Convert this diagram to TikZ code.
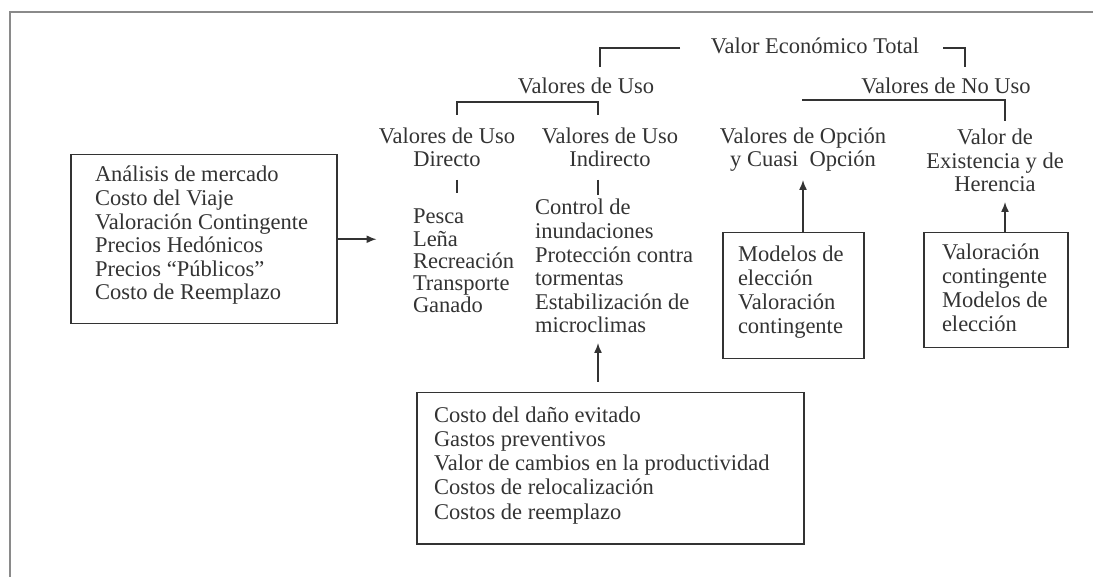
\documentclass[tikz,border=0pt]{standalone}
\usepackage{fontspec}
\setmainfont{Liberation Serif}
\usetikzlibrary{arrows.meta,calc}
\definecolor{ink}{HTML}{333333}
\definecolor{framec}{HTML}{8A8A8A}
\begin{document}
\begin{tikzpicture}[x=1pt,y=-1pt,
  txt/.style={inner sep=0pt, outer sep=0pt, text=ink, font=\fontsize{22.5}{23.6}\selectfont},
  lst/.style={txt, align=left, anchor=base west},
  ctr/.style={txt, align=center, anchor=base},
  boxst/.style={draw=ink, line width=1.5pt, inner sep=0pt, anchor=north west},
  ln/.style={draw=ink, line width=1.5pt},
  arr/.style={ln, -{Latex[length=10pt,width=8pt]}}
]
\useasboundingbox (0,0) rectangle (1093,577);
\fill[white] (0,0) rectangle (1093,577);
\draw[framec, line width=2.5pt] (10,600) -- (10,12) -- (1100,12);

% titles (multi-line nodes are placed by the baseline of their last line)
\node[txt, anchor=base] (vet) at (815,54) {Valor Económico Total};
\node[txt, anchor=base] (uso) at (586,94) {Valores de Uso};
\node[txt, anchor=base] (nouso) at (946,94) {Valores de No Uso};
\node[ctr] (dir) at (447,167) {Valores de Uso\\Directo};
\node[ctr] (ind) at (610,167) {Valores de Uso\\Indirecto};
\node[ctr] (opc) at (803,167) {Valores de Opción\\y Cuasi~~Opción};
\node[ctr] (exi) at (995,192) {Valor de\\Existencia y de\\Herencia};

% lists
\node[lst, font=\fontsize{22.5}{22.3}\selectfont] (dirl) at (413,313) {Pesca\\Leña\\Recreación\\Transporte\\Ganado};
\node[lst] (indl) at (535,333) {Control de\\inundaciones\\Protección contra\\tormentas\\Estabilización de\\microclimas};

% boxes
\node[boxst, minimum width=266pt, minimum height=169pt] (lb) at (70,154) {};
\node[lst] (lbt) at (95,300) {Análisis de mercado\\Costo del Viaje\\Valoración Contingente\\Precios Hedónicos\\Precios “Públicos”\\Costo de Reemplazo};
\node[boxst, minimum width=141pt, minimum height=126pt] (b1) at (722,232) {};
\node[lst, font=\fontsize{22.5}{24}\selectfont] (b1t) at (738,334) {Modelos de\\elección\\Valoración\\contingente};
\node[boxst, minimum width=144pt, minimum height=115pt] (b2) at (923,232) {};
\node[lst, font=\fontsize{22.5}{24}\selectfont] (b2t) at (942,332) {Valoración\\contingente\\Modelos de\\elección};
\node[boxst, minimum width=387pt, minimum height=151pt] (bb) at (416,392) {};
\node[lst, font=\fontsize{22.5}{24.2}\selectfont] (bbt) at (434,519) {Costo del daño evitado\\Gastos preventivos\\Valor de cambios en la productividad\\Costos de relocalización\\Costos de reemplazo};

% bracket coordinates
\coordinate (vetL) at (680,48);
\coordinate (usoT) at (600,67);
\coordinate (vetR) at (943,48);
\coordinate (nousoT) at (965,67);
\coordinate (usoL) at (457,115);
\coordinate (usoR) at (598,115);
\coordinate (nuL) at (802,100);
\coordinate (nuR) at (1005,121);
\coordinate (tdA) at (457,180);
\coordinate (tdB) at (457,193);
\coordinate (tiA) at (598,180);
\coordinate (tiB) at (598,195);

\draw[ln] (vetL) -| (usoT);
\draw[ln] (vetR) -| (nousoT);
\draw[ln] (usoL) |- (usoR |- 0,102) -- (usoR);
\draw[ln] (nuL) -| (nuR);
\draw[ln] (tdA) -- (tdB);
\draw[ln] (tiA) -- (tiB);

% arrows
\draw[arr] (lb.east) -- ++(39,0);
\draw[arr] (b1.north -| opc.base) -- ++(0,-52);
\draw[arr] (b2.north -| nuR) -- ++(0,-30);
\draw[arr] ($(bb.north -| tiA)+(0,-10)$) -- ++(0,-39);
\end{tikzpicture}
\end{document}
